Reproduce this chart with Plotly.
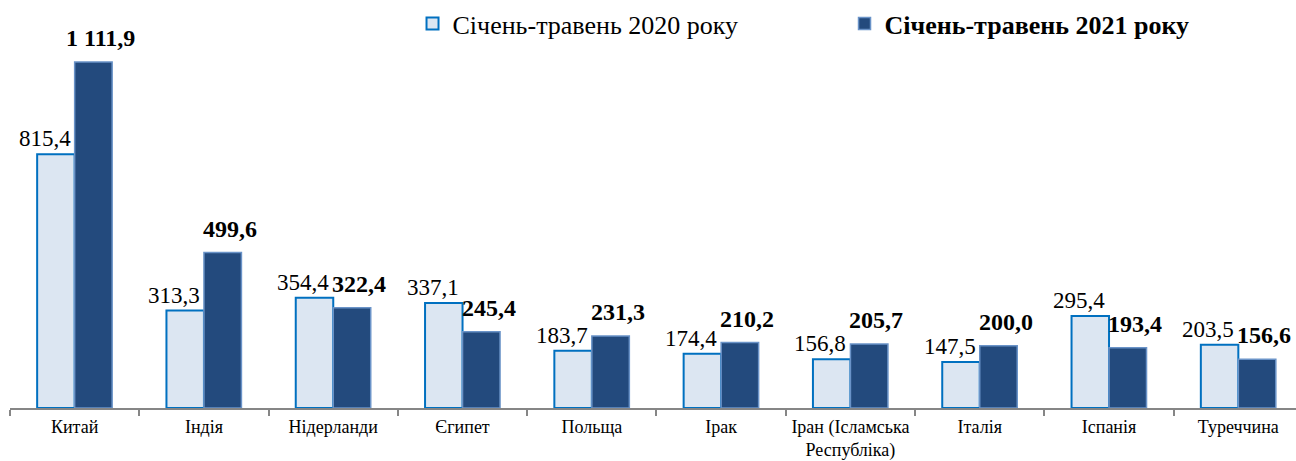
import plotly.graph_objects as go

# data
countries = ["Китай", "Індія", "Нідерланди", "Єгипет", "Польща", "Ірак",
             "Іран (Ісламська<br>Республіка)", "Італія", "Іспанія", "Туреччина"]
vals_2020 = [815.4, 313.3, 354.4, 337.1, 183.7, 174.4, 156.8, 147.5, 295.4, 203.5]
vals_2021 = [1111.9, 499.6, 322.4, 245.4, 231.3, 210.2, 205.7, 200.0, 193.4, 156.6]
name_2020 = "Січень-травень 2020 року"
name_2021 = "<b>Січень-травень 2021 року</b>"

FONT = "Liberation Serif"


def fmt(v):
    return f"{v:,.1f}".replace(",", " ").replace(".", ",")


fig = go.Figure()
fig.add_trace(go.Bar(
    x=countries, y=vals_2020, name=name_2020,
    marker=dict(color="#DCE6F2", line=dict(color="#0070C0", width=2)),
))
fig.add_trace(go.Bar(
    x=countries, y=vals_2021, name=name_2021,
    marker=dict(color="#234A7D", line=dict(color="#6A93C8", width=1.5)),
))

# data labels (excel-like, nudged left / right of each group)
for c, v in zip(countries, vals_2020):
    fig.add_annotation(x=c, y=v, text=fmt(v), showarrow=False,
                       xanchor="center", yanchor="bottom", xshift=-30, yshift=1,
                       font=dict(family=FONT, size=23, color="black"))
for c, v in zip(countries, vals_2021):
    fig.add_annotation(x=c, y=v, text="<b>" + fmt(v) + "</b>", showarrow=False,
                       xanchor="center", yanchor="bottom", xshift=26, yshift=9,
                       font=dict(family=FONT, size=24, color="black"))

fig.update_layout(
    width=1296, height=461,
    margin=dict(l=10, r=0, t=0, b=53),
    plot_bgcolor="white", paper_bgcolor="white",
    barmode="group", bargap=0.42, bargroupgap=0,
    font=dict(family=FONT, color="black"),
    legend=dict(orientation="h", x=0.313, y=1.0, xanchor="left", yanchor="top",
                font=dict(family=FONT, size=26, color="black"),
                entrywidth=387, entrywidthmode="pixels",
                itemclick=False, tracegroupgap=0),
    showlegend=True,
)
fig.update_xaxes(range=[-0.5, 9.446], automargin=False,
                 showline=True, linecolor="#868686", linewidth=2,
                 ticks="outside", ticklen=6, tickcolor="#868686", tickwidth=2,
                 ticklabelstandoff=1,
                 tickson="boundaries", tickfont=dict(family=FONT, size=18, color="black"))
fig.update_yaxes(range=[0, 1311], visible=False, showgrid=False, automargin=False)

fig.write_html("out.html", config={"displayModeBar": False},
               post_script="document.body.style.margin='0';")
